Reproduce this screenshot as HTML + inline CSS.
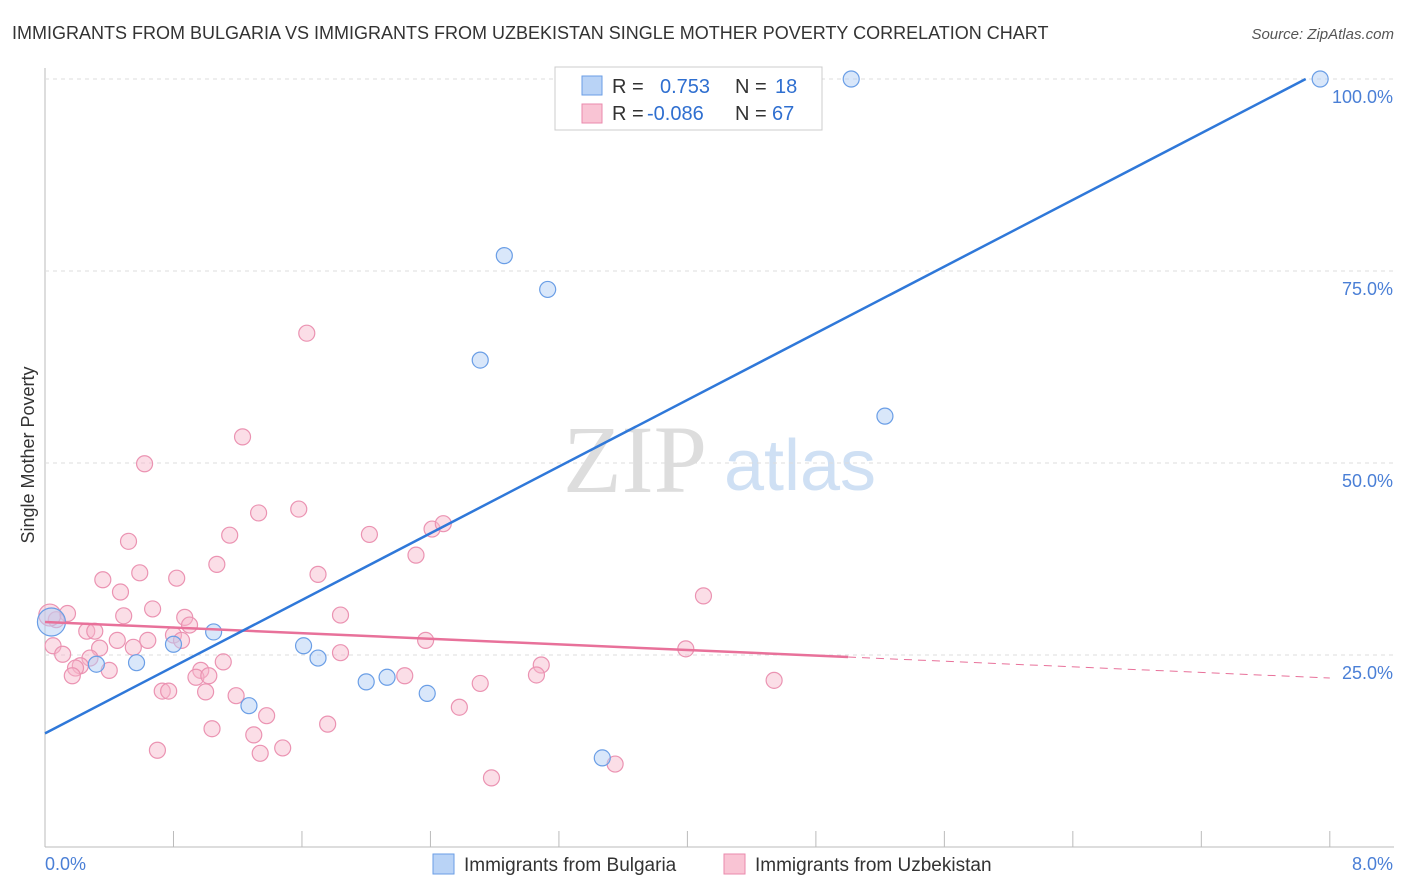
<!DOCTYPE html>
<html><head><meta charset="utf-8"><style>
body{margin:0;background:#fff;font-family:"Liberation Sans",sans-serif;}
#wrap{position:relative;width:1406px;height:892px;overflow:hidden}
</style></head><body>
<div id="wrap">
<svg id="svg" width="1406" height="892">
<text x="12" y="39" font-size="18" fill="#333">IMMIGRANTS FROM BULGARIA VS IMMIGRANTS FROM UZBEKISTAN SINGLE MOTHER POVERTY CORRELATION CHART</text>
<text x="1394" y="39" font-size="15" fill="#555" font-style="italic" text-anchor="end">Source: ZipAtlas.com</text>
<text x="635" y="492" font-size="96" fill="#ddd" font-family="Liberation Serif,serif" text-anchor="middle">ZIP</text>
<text x="800" y="490" font-size="72" fill="#cfe0f4" text-anchor="middle">atlas</text>
<text transform="translate(34,455) rotate(-90)" font-size="18" fill="#333" text-anchor="middle">Single Mother Poverty</text>
<g id="grid"></g><g id="marks"></g>
<rect x="555" y="67" width="267" height="63" fill="#fff" stroke="#ccc"/>
<rect x="582" y="76" width="20" height="19" fill="#b9d3f6" stroke="#6a9ee6"/>
<rect x="582" y="104" width="20" height="19" fill="#f9c4d4" stroke="#ea8aac"/>
<text x="612" y="93" font-size="20" fill="#333">R = <tspan fill="#2f6fd0" x="660">0.753</tspan><tspan x="735">N =</tspan><tspan fill="#2f6fd0" x="775">18</tspan></text>
<text x="612" y="120" font-size="20" fill="#333">R = <tspan fill="#2f6fd0" x="647">-0.086</tspan><tspan x="735">N =</tspan><tspan fill="#2f6fd0" x="772">67</tspan></text>
<rect x="433" y="854" width="21" height="20" fill="#b9d3f6" stroke="#6a9ee6"/>
<text x="464" y="871" font-size="19" fill="#333">Immigrants from Bulgaria</text>
<rect x="724" y="854" width="21" height="20" fill="#f9c4d4" stroke="#ea8aac"/>
<text x="755" y="871" font-size="19" fill="#333">Immigrants from Uzbekistan</text>
</svg></div>
<script>
const xTicks=[0,8];
const yTicks=[25,50,75,100];
const bulgariaX=[5.02,7.94,2.86,3.13,2.71,5.23,1.05,0.80,1.61,1.70,0.57,0.32,1.27,2.00,2.13,2.38,3.47,0.04];
const bulgariaY=[100,100,77.0,72.6,63.4,56.1,28.0,26.4,26.2,24.6,24.0,23.8,18.4,21.5,22.1,20.0,11.6,29.3];
const uzbekX=[1.63,1.23,0.62,1.33,1.58,1.15,0.52,2.02,2.41,2.48,2.31,1.07,0.59,0.36,0.82,1.70,0.47,4.10,0.67,0.49,0.14,0.87,1.84,0.90,0.26,0.31,0.07,0.45,0.64,0.80,0.85,2.37,3.99,0.05,0.34,0.55,0.11,0.28,1.84,0.22,0.19,0.40,1.11,3.09,0.97,0.94,1.02,0.17,2.24,3.06,2.71,4.54,0.73,0.77,1.00,1.19,2.58,1.38,1.04,1.76,1.30,0.70,1.48,1.34,3.55,2.78,0.03];
const uzbekY=[66.9,53.4,49.9,43.5,44.0,40.6,39.8,40.7,41.4,42.1,38.0,36.8,35.7,34.8,35.0,35.5,33.2,32.7,31.0,30.1,30.4,29.9,30.2,28.9,28.1,28.1,29.6,26.9,26.9,27.6,26.9,26.9,25.8,26.2,25.9,26.0,25.1,24.6,25.3,23.6,23.3,23.0,24.1,23.7,23.0,22.1,22.3,22.3,22.3,22.4,21.3,21.7,20.3,20.3,20.2,19.7,18.2,17.1,15.4,16.0,14.6,12.6,12.9,12.2,10.8,9.0,30.2];
const bulgariaLine=[14.8,100.0], bulgariaLineX=[0,7.85];
const uzbekLine=[29.3,22.0], uzbekSolidEnd=5.0;
const X=v=>45+v*160.6, Y=v=>847-v*7.68;
const ns="http://www.w3.org/2000/svg";
const grid=document.getElementById('grid'), marks=document.getElementById('marks');
function mk(p,tag,a){const e=document.createElementNS(ns,tag);for(const k in a)e.setAttribute(k,a[k]);p.appendChild(e);return e;}
let ax=mk(grid,'line',{x1:45,y1:847,x2:1394,y2:847,stroke:'#bbb'});


let ay=mk(grid,'line',{x1:45,y1:68,x2:45,y2:847,stroke:'#bbb'});


for(let i=1;i<=10;i++){let t=mk(grid,'line',{x1:X(i*0.8),x2:X(i*0.8),y1:831,y2:847,stroke:'#bbb'});

}
yTicks.forEach(v=>{let g=mk(grid,'line',{x1:45,x2:1394,y1:Y(v),y2:Y(v),stroke:'#ddd','stroke-dasharray':'4,4'});


let t=mk(grid,'text',{x:1393,y:Y(v)+24,'font-size':18,fill:'#4a7fd6','text-anchor':'end'});t.textContent=v.toFixed(1)+'%';

});
xTicks.forEach((v,i)=>{let t=mk(grid,'text',{x:i?1393:45,y:870,'font-size':18,fill:'#4a7fd6','text-anchor':i?'end':'start'});t.textContent=v.toFixed(1)+'%';

});
uzbekX.forEach((x,i)=>{let c=mk(marks,'circle',{cx:X(x),cy:Y(uzbekY[i]),r:i==uzbekX.length-1?11:8,fill:'rgba(247,182,202,0.45)',stroke:'#eb93b2','stroke-width':1.2});

});
bulgariaX.forEach((x,i)=>{let c=mk(marks,'circle',{cx:X(x),cy:Y(bulgariaY[i]),r:i==bulgariaX.length-1?14:8,fill:'rgba(180,208,245,0.5)',stroke:'#6a9ee6','stroke-width':1.2});

});
const uy=x=>uzbekLine[0]+(uzbekLine[1]-uzbekLine[0])*x/8;
let l1=mk(marks,'line',{x1:X(0),y1:Y(uy(0)),x2:X(uzbekSolidEnd),y2:Y(uy(uzbekSolidEnd)),stroke:'#e8719a','stroke-width':2.5});


let l2=mk(marks,'line',{x1:X(uzbekSolidEnd),y1:Y(uy(uzbekSolidEnd)),x2:X(8),y2:Y(uy(8)),stroke:'#e8719a','stroke-width':1,'stroke-dasharray':'8,6'});


let l3=mk(marks,'line',{x1:X(bulgariaLineX[0]),y1:Y(bulgariaLine[0]),x2:X(bulgariaLineX[1]),y2:Y(bulgariaLine[1]),stroke:'#2f78d9','stroke-width':2.5});


</script></body></html>
